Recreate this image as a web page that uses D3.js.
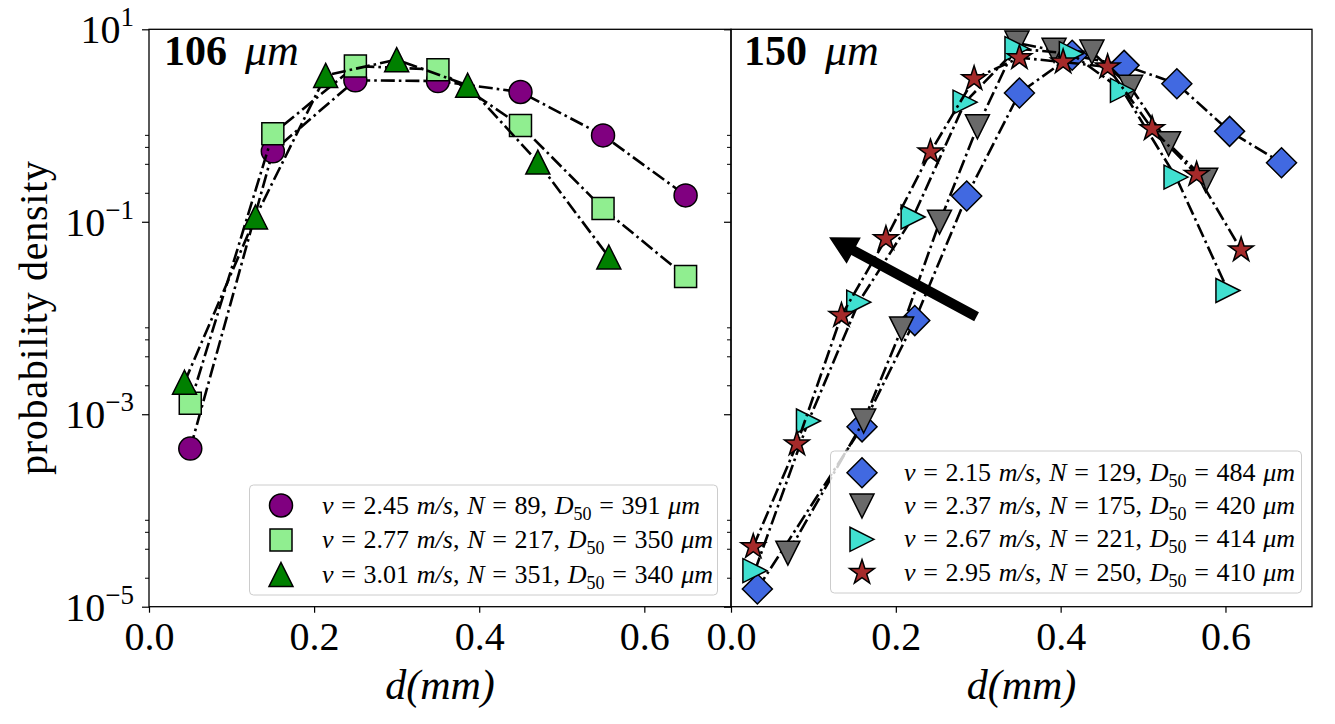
<!DOCTYPE html>
<html>
<head>
<meta charset="utf-8">
<script src="https://cdn.jsdelivr.net/npm/d3@7"></script>
<style>
  body { margin: 0; background: #fff; }
  svg { display: block; font-family: "Liberation Serif", "DejaVu Serif", serif; }
</style>
</head>
<body>
<div id="canvas"></div>
<script>
// ---- data ----
// left panel, 106 um
const x106 = [0.05, 0.15, 0.25, 0.35, 0.45, 0.55, 0.65];
const y106_245 = [4.4e-4, 0.54, 2.95, 2.9, 2.23, 0.79, 0.188];
const y106_277 = [1.3e-3, 0.82, 4.15, 3.81, 1.0, 0.137, 0.027];
const x106_301 = [0.043, 0.129, 0.214, 0.300, 0.386, 0.471, 0.557];
const y106_301 = [2.15e-3, 0.112, 3.32, 4.84, 2.62, 0.417, 0.043];

// right panel, 150 um
const x150_215 = [0.032, 0.159, 0.223, 0.286, 0.350, 0.414, 0.477, 0.541, 0.605, 0.668];
const y150_215 = [1.53e-5, 7.4e-4, 9.4e-3, 0.185, 2.18, 5.37, 4.22, 2.72, 0.87, 0.41];
const x150_237 = [0.069, 0.161, 0.207, 0.253, 0.299, 0.347, 0.392, 0.438, 0.485, 0.531, 0.576];
const y150_237 = [3.6e-5, 8.5e-4, 7.7e-3, 0.099, 0.97, 7.2, 6.05, 5.8, 2.5, 0.646, 0.27];
const x150_267 = [0.029, 0.094, 0.155, 0.221, 0.284, 0.347, 0.413, 0.475, 0.540, 0.603];
const y150_267 = [2.37e-5, 8.5e-4, 0.0146, 0.112, 1.75, 6.3, 5.58, 2.32, 0.291, 0.0193];
const x150_295 = [0.027, 0.080, 0.134, 0.188, 0.242, 0.295, 0.350, 0.403, 0.457, 0.511, 0.565, 0.619];
const y150_295 = [4.2e-5, 4.9e-4, 0.0106, 0.0666, 0.53, 3.07, 5.07, 4.57, 4.06, 0.927, 0.31, 0.051];

// legend entries
const vel106 = ["2.45", "2.77", "3.01"];
const n106 = ["89", "217", "351"];
const d50_106 = ["391", "350", "340"];
const vel150 = ["2.15", "2.37", "2.67", "2.95"];
const n150 = ["129", "175", "221", "250"];
const d50_150 = ["484", "420", "414", "410"];

const panelTitles = ["106", "150"];
const xTicks = [0, 0.2, 0.4, 0.6];
const yMajor = [10, 1e-1, 1e-3, 1e-5];
const yMinor = [2e-5, 4e-5, 6e-5, 8e-5, 2e-3, 4e-3, 6e-3, 8e-3, 0.2, 0.4, 0.6, 0.8];

// arrow (data coords in right panel): tail -> head
const arrowTail = [0.298, 0.0103];
const arrowHead = [0.119, 0.0689];

// ---- layout ----
const width = 1335, height = 724;
const plotTop = 29.3, plotBottom = 606.7;
const panelBox = [{x0: 149, x1: 731}, {x0: 731, x1: 1312}];

const svg = d3.select("#canvas")
    .append("svg")
    .attr("width", width)
    .attr("height", height);

const yScale = d3.scaleLog()
    .domain([1e-5, 10])
    .range([plotBottom, plotTop]);

const xScales = panelBox.map(p => d3.scaleLinear().domain([0, 0.705]).range([p.x0, p.x1]));

// marker shapes, roughly matplotlib's
function markerPath(type, s) {
    switch (type) {
        case "circle":
            return d3.symbol(d3.symbolCircle, Math.PI * s * s)();
        case "square":
            return `M${-s},${-s}H${s}V${s}H${-s}Z`;
        case "tri-up":
            return `M0,${-s}L${s},${s}L${-s},${s}Z`;
        case "tri-down":
            return `M0,${s}L${s},${-s}L${-s},${-s}Z`;
        case "tri-right":
            return `M${s},0L${-s},${-s}L${-s},${s}Z`;
        case "diamond":
            return `M0,${-s}L${s},0L0,${s}L${-s},0Z`;
        case "star": {
            const pts = [];
            for (let i = 0; i < 10; i++) {
                const r = i % 2 === 0 ? s : s * 0.382;
                const a = -Math.PI / 2 + i * Math.PI / 5;
                pts.push([r * Math.cos(a), r * Math.sin(a)]);
            }
            return "M" + pts.map(p => p.join(",")).join("L") + "Z";
        }
    }
}

const series = [
    [
        {xs: x106, ys: y106_245, type: "circle", size: 11.5, color: "#800080"},
        {xs: x106, ys: y106_277, type: "square", size: 11, color: "#90ee90"},
        {xs: x106_301, ys: y106_301, type: "tri-up", size: 12, color: "#008000"}
    ],
    [
        {xs: x150_215, ys: y150_215, type: "diamond", size: 15, color: "#4169e1"},
        {xs: x150_237, ys: y150_237, type: "tri-down", size: 12, color: "#696969"},
        {xs: x150_267, ys: y150_267, type: "tri-right", size: 12, color: "#40e0d0"},
        {xs: x150_295, ys: y150_295, type: "star", size: 13, color: "#a52a2a"}
    ]
];

const legendRows = [
    vel106.map((v, i) => ({v: v, n: n106[i], d: d50_106[i]})),
    vel150.map((v, i) => ({v: v, n: n150[i], d: d50_150[i]}))
];

// legend placement (px)
const legendBox = [
    {x: 249.5, y: 485, w: 468, h: 110, mx: 281, tx: 322, row0: 505.5, step: 34.5},
    {x: 830.5, y: 451, w: 471, h: 142, mx: 862, tx: 904, row0: 472.7, step: 33.3}
];

panelBox.forEach((p, k) => {
    const x = xScales[k];
    const g = svg.append("g");

    g.append("clipPath")
        .attr("id", "clip" + k)
        .append("rect")
        .attr("x", p.x0).attr("y", plotTop)
        .attr("width", p.x1 - p.x0).attr("height", plotBottom - plotTop);

    // x axis
    const xAxis = g.append("g")
        .attr("transform", "translate(0," + plotBottom + ")")
        .call(d3.axisBottom(x).tickValues(xTicks).tickFormat(d3.format(".1f")).tickSize(6).tickPadding(9));
    xAxis.select(".domain").remove();
    xAxis.selectAll("line").attr("stroke-width", 1.2);
    xAxis.selectAll("text").style("font-size", "40px").style("font-family", "Liberation Serif");

    // y axis ticks (labels drawn by hand for the superscripts)
    const yAxis = g.append("g")
        .attr("transform", "translate(" + p.x0 + ",0)")
        .call(d3.axisLeft(yScale).tickValues(yMajor).tickFormat("").tickSize(7));
    yAxis.select(".domain").remove();
    yAxis.selectAll("line").attr("stroke-width", 1.2);
    const yMin = g.append("g")
        .attr("transform", "translate(" + p.x0 + ",0)")
        .call(d3.axisLeft(yScale).tickValues(yMinor).tickFormat("").tickSize(4));
    yMin.select(".domain").remove();
    yMin.selectAll("line").attr("stroke-width", 1);

    if (k === 0) {
        yMajor.forEach(v => {
            const e = Math.round(Math.log10(v));
            const t = g.append("text")
                .attr("x", 134)
                .attr("y", yScale(v) + 14)
                .attr("text-anchor", "end")
                .style("font-size", "40px");
            t.append("tspan").text("10");
            t.append("tspan")
                .attr("dy", -17)
                .style("font-size", "27px")
                .text(e < 0 ? "\u2212" + (-e) : String(e));
        });
    }

    // data
    const plot = g.append("g").attr("clip-path", "url(#clip" + k + ")");
    series[k].forEach(s => {
        const pts = s.xs.map((v, i) => [x(v), yScale(s.ys[i])]);
        const sg = plot.append("g");
        sg.append("path")
            .attr("d", d3.line()(pts))
            .attr("fill", "none")
            .attr("stroke", "#000")
            .attr("stroke-width", 2.6)
            .attr("stroke-dasharray", "14,4,2.6,4");
        sg.selectAll(null)
            .data(pts)
            .join("path")
            .attr("transform", d => "translate(" + d[0] + "," + d[1] + ")")
            .attr("d", markerPath(s.type, s.size))
            .attr("fill", s.color)
            .attr("stroke", "#000")
            .attr("stroke-width", 1.5)
            .attr("stroke-linejoin", "miter");
    });

    // frame
    g.append("rect")
        .attr("x", p.x0).attr("y", plotTop)
        .attr("width", p.x1 - p.x0).attr("height", plotBottom - plotTop)
        .attr("fill", "none")
        .attr("stroke", "#000")
        .attr("stroke-width", 1.3);

    // panel title
    const title = g.append("text")
        .attr("x", p.x0 + (k === 0 ? 15 : 13))
        .attr("y", 65)
        .style("font-size", "42px");
    title.append("tspan").style("font-weight", "bold").text(panelTitles[k]);
    title.append("tspan").attr("dx", 18).style("font-style", "italic").style("font-size", "44px").text("\u03bcm");

    // x label
    g.append("text")
        .attr("x", (p.x0 + p.x1) / 2)
        .attr("y", 699)
        .attr("text-anchor", "middle")
        .style("font-size", "42px")
        .style("font-style", "italic")
        .text("d(mm)");

    // legend
    const lb = legendBox[k];
    const leg = g.append("g");
    leg.append("rect")
        .attr("x", lb.x).attr("y", lb.y)
        .attr("width", lb.w).attr("height", lb.h)
        .attr("rx", 4)
        .attr("fill", "#fff").attr("fill-opacity", 0.8)
        .attr("stroke", "#cccccc").attr("stroke-width", 1);
    legendRows[k].forEach((r, i) => {
        const s = series[k][i];
        const cy = lb.row0 + i * lb.step;
        leg.append("path")
            .attr("transform", "translate(" + lb.mx + "," + cy + ")")
            .attr("d", markerPath(s.type, s.size))
            .attr("fill", s.color)
            .attr("stroke", "#000")
            .attr("stroke-width", 1.5);
        const t = leg.append("text")
            .attr("x", lb.tx)
            .attr("y", cy + 8)
            .style("font-size", "26px")
            .style("word-spacing", "1.2px");
        t.append("tspan").style("font-style", "italic").text("v");
        t.append("tspan").text(" = " + r.v + " ");
        t.append("tspan").style("font-style", "italic").text("m/s");
        t.append("tspan").text(", ");
        t.append("tspan").style("font-style", "italic").text("N");
        t.append("tspan").text(" = " + r.n + ", ");
        t.append("tspan").style("font-style", "italic").text("D");
        t.append("tspan").attr("dy", 6).style("font-size", "18px").text("50");
        t.append("tspan").attr("dy", -6).text(" = " + r.d + " ");
        t.append("tspan").style("font-style", "italic").text("\u03bcm");
    });
});

// y label
svg.append("text")
    .attr("transform", "translate(47," + ((plotTop + plotBottom) / 2) + ") rotate(-90)")
    .attr("text-anchor", "middle")
    .attr("textLength", 314)
    .attr("lengthAdjust", "spacing")
    .style("font-size", "40px")
    .text("probability density");

// arrow in the right panel
const xr = xScales[1];
const tail = [xr(arrowTail[0]), yScale(arrowTail[1])];
const head = [xr(arrowHead[0]), yScale(arrowHead[1])];
const len = Math.hypot(head[0] - tail[0], head[1] - tail[1]);
const ux = (head[0] - tail[0]) / len, uy = (head[1] - tail[1]) / len;
const nx = -uy, ny = ux;
const hl = 28, hw = 15, sw = 5;
const bx = head[0] - ux * hl, by = head[1] - uy * hl;
const arrowPts = [
    [tail[0] + nx * sw, tail[1] + ny * sw],
    [bx + nx * sw, by + ny * sw],
    [bx + nx * hw, by + ny * hw],
    head,
    [bx - nx * hw, by - ny * hw],
    [bx - nx * sw, by - ny * sw],
    [tail[0] - nx * sw, tail[1] - ny * sw]
];
svg.append("path")
    .attr("d", "M" + arrowPts.map(p => p.join(",")).join("L") + "Z")
    .attr("fill", "#000");
</script>
</body>
</html>
